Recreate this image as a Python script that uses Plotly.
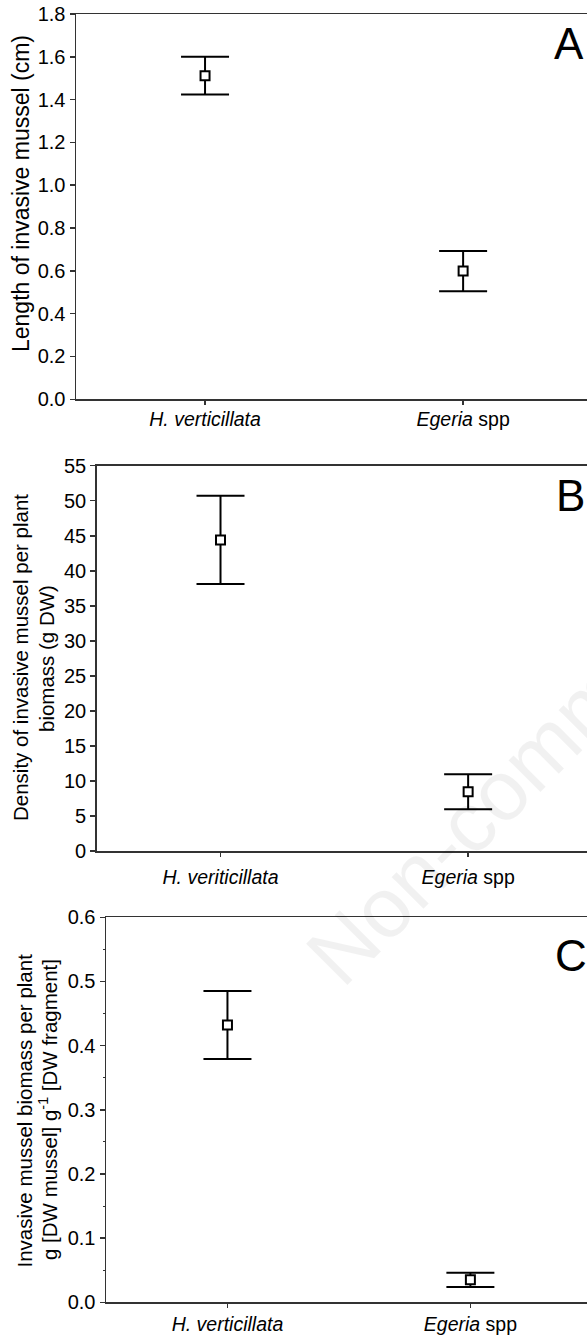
import plotly.graph_objects as go

W, H = 587, 1339

# ---- data ----
cats_A = ["<i>H. verticillata</i>", "<i>Egeria</i> spp"]
mean_A = [1.512, 0.599]
se_A = [0.088, 0.094]

cats_B = ["<i>H. veriticillata</i>", "<i>Egeria</i> spp"]
mean_B = [44.4, 8.47]
se_B = [6.3, 2.5]

cats_C = ["<i>H. verticillata</i>", "<i>Egeria</i> spp"]
mean_C = [0.432, 0.035]
se_C = [0.053, 0.011]

yticks_A = [0.0, 0.2, 0.4, 0.6, 0.8, 1.0, 1.2, 1.4, 1.6, 1.8]
yticks_B = [0, 5, 10, 15, 20, 25, 30, 35, 40, 45, 50, 55]
yticks_C = [0.0, 0.1, 0.2, 0.3, 0.4, 0.5, 0.6]

FONT = "Arial, 'Liberation Sans', sans-serif"
LINE = "#333333"

def px_x(p):
    return p / W

def px_y(p):
    return 1 - p / H

fig = go.Figure()

panels = [
    ("x", "y", cats_A, mean_A, se_A),
    ("x2", "y2", cats_B, mean_B, se_B),
    ("x3", "y3", cats_C, mean_C, se_C),
]
for xa, ya, c, m, s in panels:
    fig.add_trace(go.Scatter(
        x=c, y=m, xaxis=xa, yaxis=ya, mode="markers",
        marker=dict(symbol="square", size=9, color="white",
                    line=dict(color="black", width=2)),
        error_y=dict(type="data", array=s, visible=True, color="black",
                     thickness=2, width=24),
        showlegend=False, hoverinfo="skip",
    ))

def xaxis_cfg(left_px, anchor, standoff=0):
    return dict(
        domain=[px_x(left_px), 1], type="category", range=[-0.5, 1.48],
        anchor=anchor,
        showline=True, linecolor=LINE, linewidth=1.5, mirror=True,
        ticks="outside", ticklen=4, tickwidth=1.5, tickcolor=LINE,
        ticklabelstandoff=standoff,
        tickfont=dict(family=FONT, size=19.5, color="black"),
        showgrid=False, zeroline=False, automargin=False, fixedrange=True,
    )

def yaxis_cfg(top_px, bot_px, rng, tv, fmt, anchor, size=20, minor=None):
    d = dict(
        domain=[px_y(bot_px), px_y(top_px)], range=rng, anchor=anchor,
        tickmode="array", tickvals=tv, tickformat=fmt,
        showline=True, linecolor=LINE, linewidth=1.5, mirror=False,
        ticks="outside", ticklen=5, tickwidth=1.5, tickcolor=LINE,
        tickfont=dict(family=FONT, size=size, color="black"),
        showgrid=False, zeroline=False, automargin=False, fixedrange=True,
    )
    if minor:
        d["minor"] = minor
    return d

fig.update_layout(
    width=W, height=H, margin=dict(l=0, r=0, t=0, b=0),
    paper_bgcolor="white", plot_bgcolor="white", template="none",
    showlegend=False,
    xaxis=xaxis_cfg(76, "y", standoff=-2),
    yaxis=yaxis_cfg(14, 399.3, [0, 1.8], yticks_A, ".1f", "x"),
    xaxis2=xaxis_cfg(96.7, "y2", standoff=4),
    yaxis2=yaxis_cfg(465.7, 851, [0, 55], yticks_B, "d", "x2"),
    xaxis3=xaxis_cfg(106, "y3"),
    yaxis3=yaxis_cfg(917.3, 1302.3, [0, 0.6], yticks_C, ".1f", "x3",
                     minor=dict(dtick=0.05, ticks="outside", ticklen=2,
                                tickwidth=1, tickcolor=LINE, showgrid=False)),
)

def ann(text, x, y, size, angle=0, color="black"):
    fig.add_annotation(text=text, x=px_x(x), y=px_y(y), xref="paper", yref="paper",
                       showarrow=False, textangle=angle, xanchor="center", yanchor="middle",
                       font=dict(family=FONT, size=size, color=color))

# watermark (translucent so the marks stay visible)
ann("Non-commercial use only", 660, 630, 85, angle=-45, color="rgba(0,0,0,0.055)")

# axis titles
ann("Length of invasive mussel (cm)", 21, 194, 23, angle=-90)
ann("Density of invasive mussel per plant", 21, 658, 20.5, angle=-90)
ann("biomass (g DW)", 47, 659, 20.5, angle=-90)
ann("Invasive mussel biomass per plant", 23.5, 1111, 20.5, angle=-90)
ann("g [DW mussel] g<sup>-1</sup> [DW fragment]", 48, 1110, 20.5, angle=-90)

# panel letters
ann("A", 569, 44, 44)
ann("B", 570, 495, 44)
ann("C", 571, 955, 44)

fig.write_html(
    "out.html",
    config={"displayModeBar": False, "staticPlot": True},
    post_script="document.body.style.margin='0';document.body.style.overflow='hidden';",
)
